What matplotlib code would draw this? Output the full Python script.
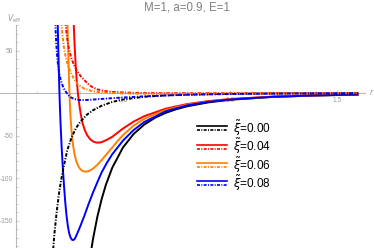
import matplotlib
matplotlib.use("Agg")
import matplotlib.pyplot as plt
from matplotlib.lines import Line2D
from matplotlib.ticker import FixedLocator

plt.rcParams['font.family'] = ['Liberation Sans', 'DejaVu Sans']
plt.rcParams['mathtext.fontset'] = 'dejavusans'

title = "M=1, a=0.9, E=1"
xi_labels = ["0.00", "0.04", "0.06", "0.08"]
colors = ["#000000", "#FF0000", "#FF8000", "#0000FF"]

# solid curves (V_eff)
r_s0 = [0.34, 0.36, 0.38, 0.40, 0.42, 0.45, 0.5, 0.55, 0.6, 0.65, 0.7, 0.75, 0.8, 0.9, 1.0, 1.2, 1.4, 1.6]
V_s0 = [-203.5, -171.5, -145.8, -125, -108, -87.8, -64, -48.1, -37, -29.1, -23.3, -19.0, -15.6, -11, -8, -4.63, -2.92, -1.95]

r_s1 = [0.266, 0.270, 0.274, 0.279, 0.284, 0.29, 0.297, 0.304, 0.312, 0.322, 0.333, 0.347, 0.362, 0.377,
        0.392, 0.405, 0.425, 0.45, 0.5, 0.55, 0.6, 0.7, 0.8, 0.9, 1.0, 1.2, 1.4, 1.6]
V_s1 = [110, 80, 56, 32, 14, -2, -16, -27, -36.5, -44, -49.8, -54.5, -57.2, -58.4,
        -58.3, -57.3, -55, -51.5, -41.8, -33.6, -27.2, -18.4, -13, -9.5, -7.1, -4.25, -2.72, -1.84]

r_s2 = [0.237, 0.240, 0.243, 0.246, 0.249, 0.252, 0.256, 0.261, 0.267, 0.274, 0.282, 0.291, 0.301, 0.313,
        0.327, 0.342, 0.36, 0.38, 0.40, 0.425, 0.45, 0.475, 0.5, 0.55, 0.6, 0.7, 0.8, 0.9, 1.0, 1.2, 1.4, 1.6]
V_s2 = [115, 85, 57, 30, 6, -14, -33, -49, -62, -72.5, -80.5, -86, -89.8, -92,
        -92.6, -91.7, -89, -84.5, -79, -71.5, -64, -56.5, -49.5, -38.3, -30.3, -19.9, -13.7, -9.9, -7.3, -4.32, -2.77, -1.86]

r_s3 = [0.192, 0.195, 0.198, 0.201, 0.204, 0.208, 0.213, 0.218, 0.224, 0.230, 0.236, 0.242, 0.248, 0.255,
        0.262, 0.268, 0.275, 0.285, 0.30, 0.32, 0.34, 0.36, 0.38, 0.40, 0.425, 0.45, 0.5, 0.55, 0.6, 0.7,
        0.8, 0.9, 1.0, 1.2, 1.4, 1.6]
V_s3 = [110, 80, 48, 18, -8, -35, -62, -85, -108, -128, -144, -156, -164.5, -170,
        -172.8, -173, -171.5, -166, -157, -144, -130, -117, -105, -93.5, -82, -72, -56, -43.5, -34, -21.5,
        -14.5, -10.3, -7.6, -4.45, -2.83, -1.9]

# dash-dotted curves
r_d0 = [0.165, 0.17, 0.18, 0.19, 0.20, 0.21, 0.22, 0.24, 0.26, 0.28, 0.30, 0.33, 0.36, 0.40, 0.45, 0.5,
        0.6, 0.7, 0.8, 1.0, 1.2, 1.4, 1.6]
V_d0 = [-213.7, -195.4, -164.6, -140, -120, -103.7, -90.2, -67, -52, -41.5, -34, -25.8, -20.3, -15, -10.5, -7.7,
        -4.4, -2.8, -1.9, -0.96, -0.56, -0.35, -0.23]

r_d1 = [0.226, 0.232, 0.238, 0.245, 0.252, 0.26, 0.27, 0.283, 0.30, 0.32, 0.34, 0.355, 0.38, 0.41, 0.447,
        0.5, 0.6, 0.7, 0.85, 1.0, 1.2, 1.4, 1.6]
V_d1 = [115, 80, 66, 55, 47, 40, 33.5, 27, 20.5, 15, 10, 7.2, 4.3, 2.5, 1.4,
        0.6, 0, -0.2, -0.25, -0.25, -0.2, -0.15, -0.1]

r_d2 = [0.208, 0.213, 0.218, 0.224, 0.230, 0.238, 0.247, 0.257, 0.27, 0.285, 0.30, 0.32, 0.35, 0.38, 0.42,
        0.47, 0.55, 0.65, 0.8, 1.0, 1.2, 1.4, 1.6]
V_d2 = [115, 80, 66, 54, 45, 36.5, 29.5, 23.5, 17, 11.5, 8, 5, 2.6, 1.3, 0.4,
        -0.2, -0.7, -0.9, -0.8, -0.6, -0.4, -0.3, -0.2]

r_d3 = [0.180, 0.184, 0.188, 0.192, 0.196, 0.200, 0.205, 0.211, 0.218, 0.226, 0.235, 0.245, 0.257, 0.27,
        0.285, 0.30, 0.32, 0.35, 0.40, 0.45, 0.5, 0.6, 0.7, 0.8, 1.0, 1.2, 1.4, 1.6]
V_d3 = [115, 80, 58, 44, 34, 26.5, 19.5, 13.5, 8.5, 4.2, 0.7, -2.5, -5.2, -6.9,
        -7.9, -8.3, -8.3, -7.9, -7, -6.1, -5.3, -3.9, -2.9, -2.1, -1.2, -0.72, -0.45, -0.3]

solid = [(r_s0, V_s0), (r_s1, V_s1), (r_s2, V_s2), (r_s3, V_s3)]
dashed = [(r_d0, V_d0), (r_d1, V_d1), (r_d2, V_d2), (r_d3, V_d3)]

W, H = 374, 248
fig = plt.figure(figsize=(W / 100, H / 100), dpi=100)
ax = fig.add_axes([0, 0, 365 / W, 223 / H])
ax.set_xlim(-16 / 214, 349 / 214)
ax.set_ylim(-182.35, 80)

dd = (1.8, 0.8, 0.6, 0.8)
lw = 1.4
for (r, v), c in zip(solid, colors):
    ax.plot(r, v, color=c, lw=lw, solid_capstyle='butt', zorder=3)
for (r, v), c in zip(dashed, colors):
    ax.plot(r, v, color=c, lw=lw, dashes=dd, zorder=3)

for s in ['top', 'right']:
    ax.spines[s].set_visible(False)
ax.spines['left'].set_position(('data', 0))
ax.spines['bottom'].set_position(('data', 0))
axcol = '#b8b8b8'
for s in ['left', 'bottom']:
    ax.spines[s].set_color(axcol)
    ax.spines[s].set_linewidth(0.8)
ax.patch.set_visible(False)
ax.set_axisbelow(True)

ax.xaxis.set_major_locator(FixedLocator([0.5, 1.0, 1.5]))
ax.xaxis.set_minor_locator(FixedLocator([0.1, 0.2, 0.3, 0.4, 0.6, 0.7, 0.8, 0.9, 1.1, 1.2, 1.3, 1.4, 1.6]))
ax.yaxis.set_major_locator(FixedLocator([-150, -100, -50, 50]))
ax.yaxis.set_minor_locator(FixedLocator([v for v in range(-180, 81, 10) if v % 50 != 0]))
ax.set_xticklabels(["0.5", "1.0", "1.5"])
ax.set_yticklabels(["-150", "-100", "-50", "50"])
tcol = '#999999'
ax.tick_params(which='both', direction='in', colors=axcol, labelcolor=tcol, labelsize=4.8, width=0.5)
ax.tick_params(which='major', length=2.5)
ax.tick_params(which='minor', length=1.3)
ax.tick_params(axis='y', pad=2.0)
ax.tick_params(axis='x', pad=2.8)

fig.text(0.5, 1 - 7.5 / H, title, ha='center', va='center', fontsize=8.3, color='#808080')
fig.text(14 / W, 1 - 19 / H, r'$V_{\mathrm{eff}}$', ha='center', va='center', fontsize=5.5, color=tcol)
fig.text(372 / W, 1 - 92 / H, r'$r$', ha='center', va='center', fontsize=5.5, color=tcol)

# legend
for i, (lab, c) in enumerate(zip(xi_labels, colors)):
    yc = 128.3 + i * 18.3
    fig.add_artist(Line2D([197 / W, 227 / W], [1 - (yc - 2) / H] * 2, color=c, lw=1.2, transform=fig.transFigure))
    fig.add_artist(Line2D([197 / W, 227 / W], [1 - (yc + 2) / H] * 2, color=c, lw=1.2, dashes=dd,
                          transform=fig.transFigure))
    fig.text(233 / W, 1 - yc / H, r'$\tilde{\xi}$' + '=' + lab, ha='left', va='center', fontsize=8.5,
             color='black')

fig.savefig("out.png", dpi=100)
